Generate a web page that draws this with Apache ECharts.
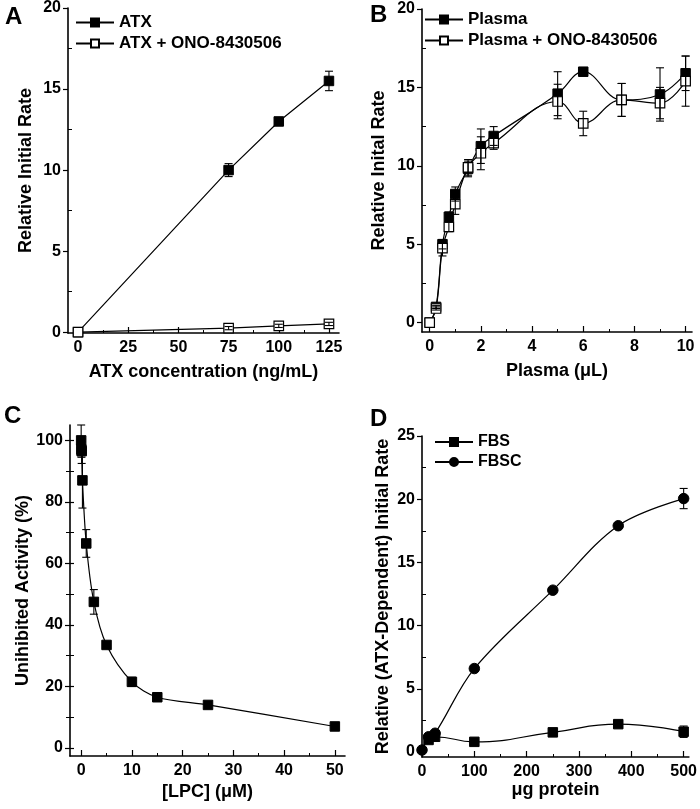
<!DOCTYPE html>
<html><head><meta charset="utf-8">
<script src="https://cdn.jsdelivr.net/npm/echarts@6/dist/echarts.min.js"></script>
<style>html,body{margin:0;padding:0;background:#fff}#c{width:700px;height:809px}</style>
</head><body><div id="c"></div>
<script>
// ---------- Panel A ----------
const aX = [0, 75, 100, 125];
const aATX = [0, 10.0, 13.0, 15.5];
const aATXErr = [0, 0.4, 0, 0.6];
const aONO = [0, 0.25, 0.39, 0.51];
const aONOErr = [0, 0.1, 0.1, 0.1];
const aXTicks = [0, 25, 50, 75, 100, 125];
const aXMinor = [12.5, 37.5, 62.5, 87.5, 112.5];
const aYTicks = [0, 5, 10, 15, 20];
const aYMinor = [2.5, 7.5, 12.5, 17.5];

// ---------- Panel B ----------
const bX = [0, 0.25, 0.5, 0.75, 1, 1.5, 2, 2.5, 5, 6, 7.5, 9, 10];
const bPlasma = [0, 1.0, 5.0, 6.75, 8.2, 9.8, 11.25, 11.9, 14.6, 16.0, 14.2, 14.55, 15.9];
const bPlasmaErr = [0, 0.1, 0.3, 0.3, 0.45, 0.5, 1.1, 0.6, 1.4, 0, 1.05, 1.7, 1.1];
const bONO = [0, 0.9, 4.75, 6.1, 7.55, 9.9, 10.8, 11.45, 14.1, 12.7, 14.2, 14.0, 15.4];
const bONOErr = [0, 0.1, 0.5, 0.3, 0.65, 0.5, 1.05, 0.4, 1.1, 0.78, 1.05, 1.0, 1.6];
const bXTicks = [0, 2, 4, 6, 8, 10];
const bXMinor = [1, 3, 5, 7, 9];
const bYTicks = [0, 5, 10, 15, 20];
const bYMinor = [2.5, 7.5, 12.5, 17.5];

// ---------- Panel C ----------
const cX = [0, 0.05, 0.1, 0.25, 1, 2.5, 5, 10, 15, 25, 50];
const cY = [100, 97, 96.5, 87, 66.5, 47.5, 33.5, 21.5, 16.5, 14, 7];
const cErr = [5, 2.5, 4, 9, 4.5, 4, 1, 1.5, 1.2, 0.8, 0.5];
const cXTicks = [0, 10, 20, 30, 40, 50];
const cXMinor = [5, 15, 25, 35, 45];
const cYTicks = [0, 20, 40, 60, 80, 100];
const cYMinor = [10, 30, 50, 70, 90];

// ---------- Panel D ----------
const dXFBS = [12.5, 25, 100, 250, 375, 500];
const dFBS = [0.95, 1.2, 0.8, 1.55, 2.2, 1.6];
const dFBSErr = [0, 0, 0, 0, 0.1, 0.45];
const dXFBSC = [0, 12.5, 25, 100, 250, 375, 500];
const dFBSC = [0.15, 1.2, 1.48, 6.6, 12.8, 17.9, 20.05];
const dFBSCErr = [0, 0, 0, 0, 0, 0, 0.8];
const dXTicks = [0, 100, 200, 300, 400, 500];
const dXMinor = [50, 150, 250, 350, 450];
const dYTicks = [0, 5, 10, 15, 20, 25];
const dYMinor = [2.5, 7.5, 12.5, 17.5, 22.5];

const FONT = '"Liberation Sans", Arial, Helvetica, sans-serif';
const BLACK = '#000';

const grids = [
  {left: 68, top: 8, width: 271, height: 325},
  {left: 422, top: 9, width: 270, height: 323},
  {left: 70, top: 425, width: 275, height: 331},
  {left: 422, top: 436, width: 267, height: 321}
];

const xAxes = [], yAxes = [];
function addAxes(g, xr, yr, xT, xM, yT, yM, xName, yName, xGap, yGap, yTickMode) {
  xAxes.push({
    type: 'value', gridIndex: g, min: xr[0], max: xr[1], position: 'bottom',
    axisLine: {show: true, onZero: false, lineStyle: {color: BLACK, width: 1.6}},
    axisTick: {show: true, inside: true, length: 6, customValues: xT, lineStyle: {color: BLACK, width: 1.2}},
    axisLabel: {customValues: xT, color: BLACK, fontSize: 16, fontWeight: 'bold', fontFamily: FONT, margin: 7},
    splitLine: {show: false},
    name: xName, nameLocation: 'middle', nameGap: xGap,
    nameTextStyle: {color: BLACK, fontSize: 18, fontWeight: 'bold', fontFamily: FONT}
  });
  const xMain = xAxes.length - 1;
  xAxes.push({
    type: 'value', gridIndex: g, min: xr[0], max: xr[1], position: 'bottom',
    axisLine: {show: false, onZero: false},
    axisTick: {show: true, inside: true, length: 3, customValues: xM, lineStyle: {color: BLACK, width: 1}},
    axisLabel: {show: false}, splitLine: {show: false}
  });
  yAxes.push({
    type: 'value', gridIndex: g, min: yr[0], max: yr[1], position: 'left',
    axisLine: {show: true, onZero: false, lineStyle: {color: BLACK, width: 1.6}},
    axisTick: {show: true, inside: false, length: 5, customValues: yT, lineStyle: {color: BLACK, width: 1.2}},
    axisLabel: {customValues: yT, color: BLACK, fontSize: 16, fontWeight: 'bold', fontFamily: FONT, margin: 7},
    splitLine: {show: false},
    name: yName, nameLocation: 'middle', nameGap: yGap, nameRotate: 90,
    nameTextStyle: {color: BLACK, fontSize: 18, fontWeight: 'bold', fontFamily: FONT}
  });
  const yMain = yAxes.length - 1;
  yAxes.push({
    type: 'value', gridIndex: g, min: yr[0], max: yr[1], position: 'left',
    axisLine: {show: false, onZero: false},
    axisTick: {show: true, inside: true, length: 4, customValues: yM, lineStyle: {color: BLACK, width: 1}},
    axisLabel: {show: false}, splitLine: {show: false}
  });
  if (yTickMode === 'cross') {
    yAxes.push({
      type: 'value', gridIndex: g, min: yr[0], max: yr[1], position: 'left',
      axisLine: {show: false, onZero: false},
      axisTick: {show: true, inside: true, length: 4, customValues: yT, lineStyle: {color: BLACK, width: 1.2}},
      axisLabel: {show: false}, splitLine: {show: false}
    });
    yAxes.push({
      type: 'value', gridIndex: g, min: yr[0], max: yr[1], position: 'left',
      axisLine: {show: false, onZero: false},
      axisTick: {show: true, inside: false, length: 4, customValues: yM, lineStyle: {color: BLACK, width: 1}},
      axisLabel: {show: false}, splitLine: {show: false}
    });
  }
  return [xMain, yMain];
}

const axA = addAxes(0, [-5, 130], [-0.05, 20], aXTicks, aXMinor, aYTicks, aYMinor,
  'ATX concentration (ng/mL)', 'Relative Initial Rate', 30, 33);
const axB = addAxes(1, [-0.3, 10.25], [-0.6, 20], bXTicks, bXMinor, bYTicks, bYMinor,
  'Plasma (\u03bcL)', 'Relative Inital Rate', 30, 34);
const axC = addAxes(2, [-2.2, 52], [-2.6, 105], cXTicks, cXMinor, cYTicks, cYMinor,
  '[LPC] (\u03bcM)', 'Unihibited Activity (%)', 27, 35, 'cross');
const axD = addAxes(3, [0, 510], [-0.4, 25], dXTicks, dXMinor, dYTicks, dYMinor,
  '\u03bcg protein', 'Relative (ATX-Dependent) Initial Rate', 18, 30);

function lineSeries(name, ax, xs, ys, opts) {
  return Object.assign({
    name: name, type: 'line', xAxisIndex: ax[0], yAxisIndex: ax[1],
    data: xs.map((x, i) => [x, ys[i]]),
    symbol: 'rect', symbolSize: 9.5, showAllSymbol: true,
    lineStyle: {color: BLACK, width: 1.2},
    itemStyle: {color: BLACK, borderColor: BLACK, borderWidth: 1},
    emphasis: {disabled: true}, clip: false, z: 3
  }, opts || {});
}
const openStyle = {itemStyle: {color: '#fff', borderColor: BLACK, borderWidth: 1.2}};

function errSeries(ax, xs, ys, es) {
  return {
    type: 'custom', xAxisIndex: ax[0], yAxisIndex: ax[1], silent: true, z: 4,
    data: xs.map((x, i) => [x, ys[i], es[i]]),
    renderItem: function (params, api) {
      const x = api.value(0), y = api.value(1), e = api.value(2);
      if (!e) return null;
      const t = api.coord([x, y + e]), b = api.coord([x, y - e]);
      const w = 4, st = {stroke: BLACK, lineWidth: 1.1};
      return {type: 'group', children: [
        {type: 'line', shape: {x1: t[0], y1: t[1], x2: b[0], y2: b[1]}, style: st},
        {type: 'line', shape: {x1: t[0] - w, y1: t[1], x2: t[0] + w, y2: t[1]}, style: st},
        {type: 'line', shape: {x1: b[0] - w, y1: b[1], x2: b[0] + w, y2: b[1]}, style: st}
      ]};
    }
  };
}

const series = [
  lineSeries('ATX', axA, aX, aATX),
  lineSeries('ATX + ONO-8430506', axA, aX, aONO, openStyle),
  errSeries(axA, aX, aATX, aATXErr),
  errSeries(axA, aX, aONO, aONOErr),

  lineSeries('Plasma', axB, bX, bPlasma, {smooth: 0.4}),
  lineSeries('Plasma + ONO-8430506', axB, bX, bONO, Object.assign({smooth: 0.4}, openStyle)),
  errSeries(axB, bX, bPlasma, bPlasmaErr),
  errSeries(axB, bX, bONO, bONOErr),

  lineSeries('LPC', axC, cX, cY, {smooth: 0.3}),
  errSeries(axC, cX, cY, cErr),

  lineSeries('FBS', axD, dXFBS, dFBS, {smooth: 0.5}),
  lineSeries('FBSC', axD, dXFBSC, dFBSC, {smooth: 0.35, symbol: 'circle', symbolSize: 10.5}),
  errSeries(axD, dXFBS, dFBS, dFBSErr),
  errSeries(axD, dXFBSC, dFBSC, dFBSCErr)
];

const legendText = {color: BLACK, fontWeight: 'bold', fontFamily: FONT};
function legend(data, left, top, fs, gap) {
  return {
    data: data, left: left, top: top, orient: 'vertical', itemWidth: 38, itemHeight: 10,
    itemGap: gap, selectedMode: false, padding: 0,
    textStyle: Object.assign({fontSize: fs, padding: [0, 0, 0, 0]}, legendText)
  };
}

const option = {
  animation: false,
  backgroundColor: '#fff',
  grid: grids,
  xAxis: xAxes,
  yAxis: yAxes,
  legend: [
    legend(['ATX', 'ATX + ONO-8430506'], 75, 14, 17, 4),
    legend(['Plasma', 'Plasma + ONO-8430506'], 424, 11, 17, 4),
    legend(['FBS', 'FBSC'], 434, 434, 16, 4)
  ],
  graphic: [
    {type: 'text', left: 5, top: 5, style: {text: 'A', fontSize: 24, fontWeight: 'bold', fontFamily: FONT, fill: BLACK}},
    {type: 'text', left: 370, top: 3, style: {text: 'B', fontSize: 24, fontWeight: 'bold', fontFamily: FONT, fill: BLACK}},
    {type: 'text', left: 4, top: 404, style: {text: 'C', fontSize: 24, fontWeight: 'bold', fontFamily: FONT, fill: BLACK}},
    {type: 'text', left: 370, top: 407, style: {text: 'D', fontSize: 24, fontWeight: 'bold', fontFamily: FONT, fill: BLACK}}
  ],
  series: series
};

const chart = echarts.init(document.getElementById('c'), null, {renderer: 'canvas'});
chart.setOption(option);
</script>
</body></html>
